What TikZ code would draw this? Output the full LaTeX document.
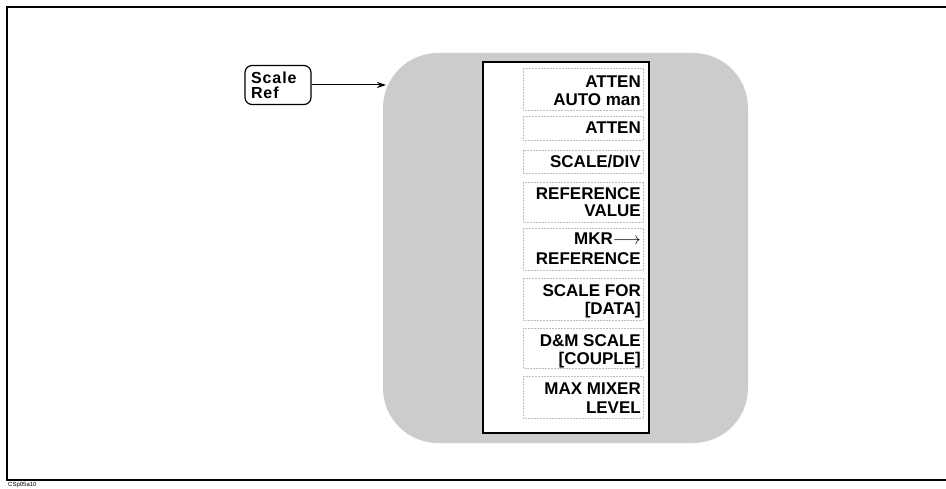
\documentclass[tikz,border=0pt]{standalone}
\usepackage{fontspec}
\setmainfont{Liberation Sans}
\usetikzlibrary{arrows.meta}
\begin{document}
\begin{tikzpicture}[x=1pt,y=-1pt,
  keytext/.style={anchor=base east, inner sep=0pt, font=\fontsize{17}{17}\selectfont\bfseries},
  keybox/.style={draw=black!25, densely dotted, line width=0.5pt},
  hardkey/.style={draw, line width=1.2pt, rounded corners=7pt, minimum width=66pt, minimum height=39pt, inner sep=0pt, align=left, text width=54pt, font=\fontsize{16}{16}\selectfont\bfseries\addfontfeature{LetterSpace=6}},
  conn/.style={-{Stealth[length=9pt,width=6pt]}, line width=1pt}
]
\useasboundingbox (0,0) rectangle (946,489);
\fill[white] (0,0) rectangle (946,489);
% outer frame
\draw[line width=1.3pt] (946,7) -- (7,7) -- (7,480) -- (946,480);
\node[anchor=north west, font=\fontsize{6}{6}\selectfont, inner sep=0pt] (code) at (8,482.5) {CSp05a10};
% grey background blob
\fill[black!20, rounded corners=55pt] (383,53) rectangle (748,443);
% menu box
\node[draw, line width=1.6pt, fill=white, minimum width=166pt, minimum height=371pt, anchor=north west, inner sep=0pt] (menu) at (482,61) {};
% softkey outlines
\draw[keybox] (523,68) rectangle (643,110);
\draw[keybox] (523,116) rectangle (643,140);
\draw[keybox] (523,150) rectangle (643,173);
\draw[keybox] (523,182) rectangle (643,222);
\draw[keybox] (523,228) rectangle (643,270);
\draw[keybox] (523,278) rectangle (643,320);
\draw[keybox] (523,328) rectangle (643,368);
\draw[keybox] (523,376) rectangle (643,418);
% softkey labels
\node[keytext] (k1a) at (641,88) {ATTEN};
\node[keytext] (k1b) at (641,106) {AUTO man};
\node[keytext] (k2a) at (641,134) {ATTEN};
\node[keytext] (k3a) at (641,168) {SCALE/DIV};
\node[keytext] (k4a) at (641,200) {REFERENCE};
\node[keytext] (k4b) at (641,217) {VALUE};
\node[keytext] (k5a) at (641,245) {MKR$\longrightarrow$};
\node[keytext] (k5b) at (641,265) {REFERENCE};
\node[keytext] (k6a) at (641,297) {SCALE FOR};
\node[keytext] (k6b) at (641,315) {[DATA]};
\node[keytext] (k7a) at (641,347) {D\&M SCALE};
\node[keytext] (k7b) at (641,364) {[COUPLE]};
\node[keytext] (k8a) at (641,395) {MAX MIXER};
\node[keytext] (k8b) at (641,413) {LEVEL};
% hard key
\node[hardkey] (sr) at (278,85) {Scale\\[-1pt]Ref};
\coordinate (arrowend) at (386,85);
\draw[conn] (sr.east) -- (arrowend);
\end{tikzpicture}
\end{document}
